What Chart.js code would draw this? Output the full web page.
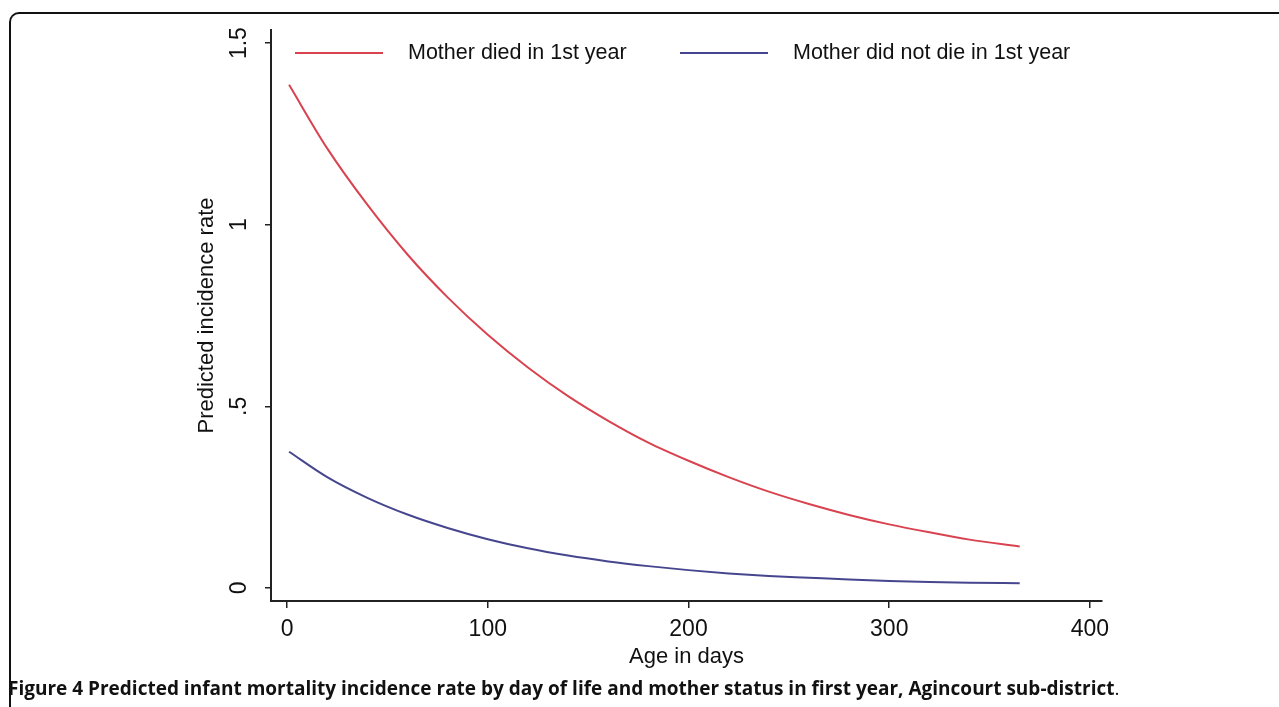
<!DOCTYPE html>
<html>
<head>
<meta charset="utf-8">
<script src="https://cdn.jsdelivr.net/npm/chart.js@4/dist/chart.umd.min.js"></script>
<style>
  html, body { margin: 0; padding: 0; background: #fff; }
  #wrap { position: relative; width: 1279px; height: 707px; overflow: hidden; }
  #frame { position: absolute; left: 9px; top: 12px; width: 1300px; height: 720px;
           border-top: 2px solid #111; border-left: 2px solid #111; border-top-left-radius: 10px; box-sizing: border-box; }
  #chartBox { position: absolute; left: 0; top: 0; width: 1279px; height: 707px; }
  #caption { position: absolute; left: 8px; top: 677px; line-height: 22px; white-space: nowrap;
             font-family: "Open Sans", sans-serif; font-size: 18px; color: #111; }
  #caption b { font-weight: 700; }
</style>
</head>
<body>
<div id="wrap">
  <div id="frame"></div>
  <div id="chartBox"><canvas id="rateChart"></canvas></div>
  <div id="caption"><b>Figure 4 Predicted infant mortality incidence rate by day of life and mother status in first year, Agincourt sub-district</b>.</div>
</div>
<script>
// valeurs
const days = [1, 20, 40, 60, 80, 100, 120, 140, 160, 180, 200, 220, 240, 260, 280, 300, 320, 340, 365];
const motherDied = [1.385, 1.21, 1.055, 0.918, 0.80, 0.697, 0.607, 0.528, 0.46, 0.40, 0.35, 0.305, 0.265, 0.231, 0.201, 0.175, 0.153, 0.133, 0.114];
const motherAlive = [0.375, 0.305, 0.248, 0.202, 0.165, 0.134, 0.109, 0.089, 0.073, 0.060, 0.049, 0.040, 0.033, 0.028, 0.023, 0.019, 0.016, 0.014, 0.013];
const seriesLabels = ['Mother died in 1st year', 'Mother did not die in 1st year'];
const xTicks = [0, 100, 200, 300, 400];
const yTicks = [0, 0.5, 1, 1.5];
const yTickLabels = ['0', '.5', '1', '1.5'];

const axisColor = '#222';
const tickFont = { family: 'Liberation Sans, Arial, sans-serif', size: 23 };

// legende et etiquettes de l'axe y dessinees a la main (style Stata)
const stataExtras = {
  id: 'stataExtras',
  afterDraw(chart) {
    const ctx = chart.ctx;
    const yScale = chart.scales.y;
    ctx.save();
    ctx.fillStyle = '#111';
    ctx.font = '23px "Liberation Sans", Arial, sans-serif';
    ctx.textAlign = 'center';
    ctx.textBaseline = 'middle';
    yTicks.forEach((v, i) => {
      const py = yScale.getPixelForValue(v);
      ctx.save();
      ctx.translate(240, py);
      ctx.rotate(-Math.PI / 2);
      ctx.fillText(yTickLabels[i], 0, 0);
      ctx.restore();
    });

    const legendX = [295, 680];
    ctx.font = '21.5px "Liberation Sans", Arial, sans-serif';
    ctx.textAlign = 'left';
    chart.data.datasets.forEach((ds, i) => {
      ctx.strokeStyle = ds.borderColor;
      ctx.lineWidth = 2;
      ctx.beginPath();
      ctx.moveTo(legendX[i], 53);
      ctx.lineTo(legendX[i] + 88, 53);
      ctx.stroke();
      ctx.fillStyle = '#111';
      ctx.fillText(ds.label, legendX[i] + 113, 53);
    });
    ctx.restore();
  }
};

const ctx = document.getElementById('rateChart').getContext('2d');
new Chart(ctx, {
  type: 'scatter',
  data: {
    datasets: [
      {
        label: seriesLabels[0],
        data: days.map((d, i) => ({ x: d, y: motherDied[i] })),
        showLine: true,
        borderColor: '#d8434f',
        borderWidth: 2,
        pointRadius: 0,
        cubicInterpolationMode: 'monotone'
      },
      {
        label: seriesLabels[1],
        data: days.map((d, i) => ({ x: d, y: motherAlive[i] })),
        showLine: true,
        borderColor: '#46468f',
        borderWidth: 2,
        pointRadius: 0,
        cubicInterpolationMode: 'monotone'
      }
    ]
  },
  options: {
    responsive: true,
    maintainAspectRatio: false,
    animation: false,
    layout: { padding: { left: 194, right: 177, top: 30, bottom: 37 } },
    plugins: {
      legend: { display: false },
      tooltip: { enabled: false }
    },
    scales: {
      x: {
        type: 'linear',
        min: -8,
        max: 406,
        afterBuildTicks: s => { s.ticks = xTicks.map(v => ({ value: v })); },
        afterFit: s => { s.height = 69; },
        ticks: { color: '#111', font: tickFont, padding: 8, maxRotation: 0 },
        grid: { drawOnChartArea: false, drawTicks: true, tickLength: 7, color: axisColor, lineWidth: 1.5 },
        border: { display: true, color: axisColor, width: 2 },
        title: { display: true, text: 'Age in days', color: '#111', padding: 0,
                 font: { family: 'Liberation Sans, Arial, sans-serif', size: 22 } }
      },
      y: {
        type: 'linear',
        min: -0.036,
        max: 1.536,
        afterBuildTicks: s => { s.ticks = yTicks.map(v => ({ value: v })); },
        afterFit: s => { s.width = 77; },
        ticks: { display: false },
        grid: { drawOnChartArea: false, drawTicks: true, tickLength: 6, color: axisColor, lineWidth: 1.5 },
        border: { display: true, color: axisColor, width: 2 },
        title: { display: true, text: 'Predicted incidence rate', color: '#111', padding: 0,
                 font: { family: 'Liberation Sans, Arial, sans-serif', size: 22 } }
      }
    }
  },
  plugins: [stataExtras]
});

// ajuster la legende de figure a la largeur de l'original
const cap = document.getElementById('caption');
const w = cap.getBoundingClientRect().width;
cap.style.fontSize = (18 * 1112 / w).toFixed(2) + 'px';
</script>
</body>
</html>
